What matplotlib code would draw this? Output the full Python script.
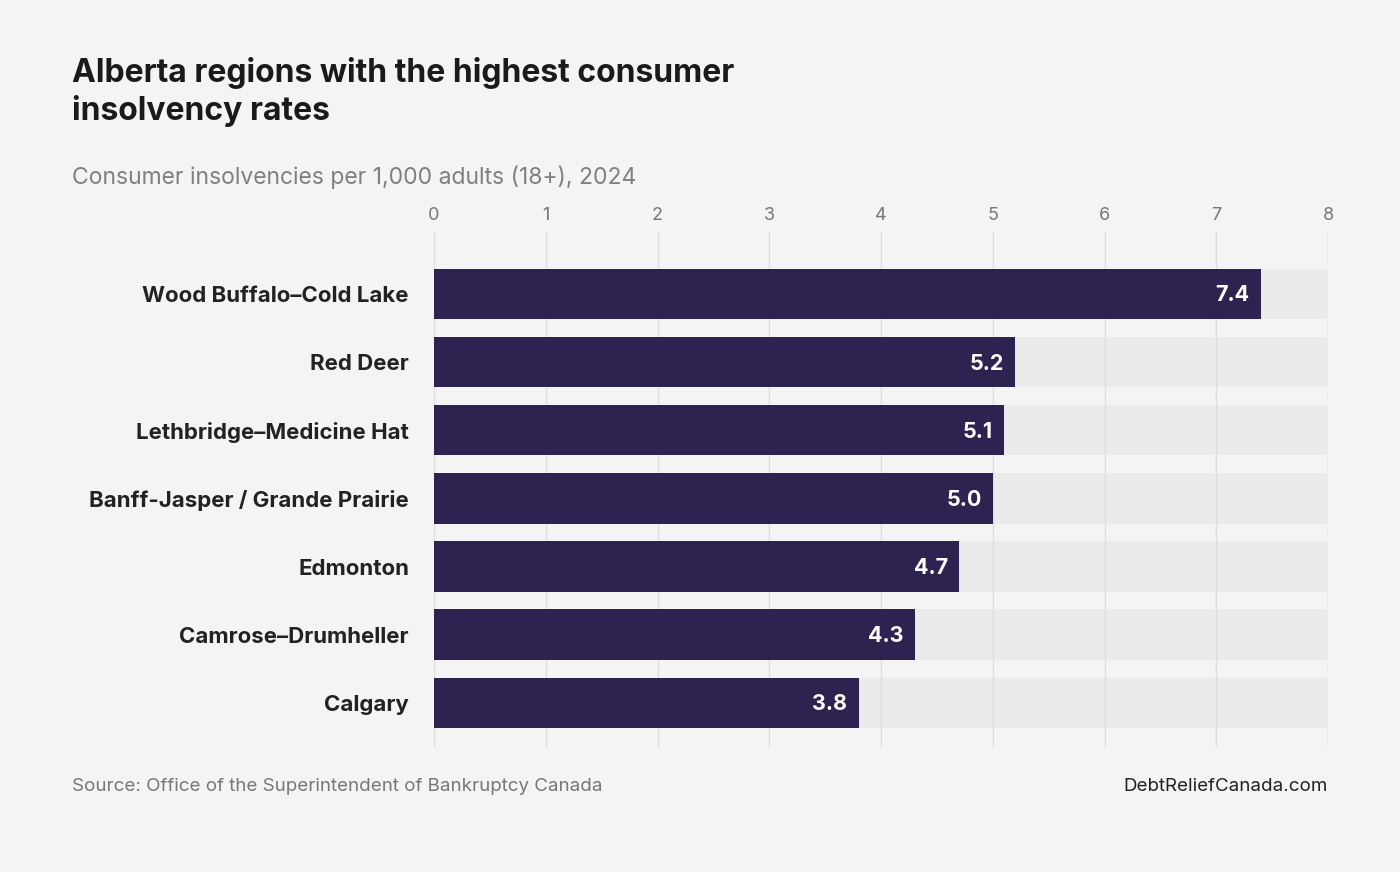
import matplotlib
matplotlib.use("Agg")
import matplotlib.pyplot as plt

regions = ['Wood Buffalo–Cold Lake', 'Red Deer', 'Lethbridge–Medicine Hat',
           'Banff-Jasper / Grande Prairie', 'Edmonton', 'Camrose–Drumheller', 'Calgary']
rates = [7.4, 5.2, 5.1, 5.0, 4.7, 4.3, 3.8]
xmax = 8

plt.rcParams['font.family'] = ['Inter', 'DejaVu Sans']
bg = '#f4f4f4'
bar_c = '#2e2250'

fig = plt.figure(figsize=(14, 8.72), dpi=100, facecolor=bg)
ax = fig.add_axes([0.31, 0.1433, 0.6386, 0.5906], facecolor=bg)

ys = list(range(len(regions)))
ax.barh(ys, [xmax] * len(ys), height=0.74, color='#ebebeb', zorder=1)
ax.barh(ys, rates, height=0.74, color=bar_c, zorder=3)
for y, v in zip(ys, rates):
    ax.text(v - 0.1, y + 0.02, f'{v:.1f}', ha='right', va='center',
            color='white', fontsize=15.5, fontweight='bold', zorder=4)

ax.set_xlim(0, xmax)
ax.set_ylim(6.65, -0.91)
ax.set_xticks(range(0, xmax + 1))
ax.xaxis.tick_top()
ax.tick_params(axis='x', length=0, labelsize=13, colors='#777777', pad=6)
ax.set_yticks(ys)
ax.set_yticklabels(regions, fontsize=16, fontweight='bold', color='#222222')
ax.tick_params(axis='y', length=0, pad=18)
ax.grid(axis='x', color='#dddddd', lw=1, zorder=0)
for s in ax.spines.values():
    s.set_visible(False)

fig.text(72 / 1400, 1 - 92 / 872, 'Alberta regions with the highest consumer\ninsolvency rates',
         fontsize=23, fontweight='bold', color='#1a1a1a', va='center', linespacing=1.25)
fig.text(72 / 1400, 1 - 177 / 872, 'Consumer insolvencies per 1,000 adults (18+), 2024',
         fontsize=16.5, color='#808080', va='center')
fig.text(72 / 1400, 1 - 786 / 872, 'Source: Office of the Superintendent of Bankruptcy Canada',
         fontsize=13.5, color='#777777', va='center')
fig.text(1328 / 1400, 1 - 786 / 872, 'DebtReliefCanada.com',
         fontsize=13.5, color='#222222', va='center', ha='right')

fig.savefig('out.png', dpi=100, facecolor=bg)
